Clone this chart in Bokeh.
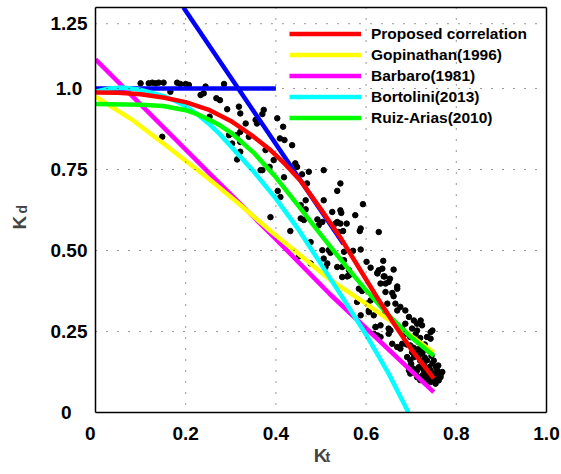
import math
from bokeh.plotting import figure
from bokeh.models import Range1d, FixedTicker, Legend, LegendItem, Label, Span, LinearAxis
from bokeh.embed import file_html
from bokeh.resources import INLINE

NB = "\u00a0"
# ---------------- data ----------------
x_ticks = [0, 0.2, 0.4, 0.6, 0.8, 1.0]
x_tick_labels = ["0" + NB * 2, "0.2", "0.4", "0.6", "0.8", "1.0"]
y_ticks = [0, 0.25, 0.5, 0.75, 1.0, 1.2]
y_tick_labels = ["0" + NB * 3, "0.25", "0.50", "0.75", "1.0" + NB, "1.25"]

# observed (Kt, Kd) points
kt_obs = [0.100, 0.118, 0.126, 0.133, 0.140, 0.151, 0.181, 0.188, 0.200, 0.207, 0.244, 0.285,
          0.166, 0.233, 0.240, 0.268, 0.276, 0.292, 0.318, 0.321, 0.333, 0.321, 0.296, 0.313,
          0.340, 0.303, 0.321, 0.314, 0.148, 0.253, 0.373, 0.366, 0.388, 0.403, 0.410, 0.321,
          0.370, 0.355, 0.358, 0.416, 0.409, 0.419, 0.436, 0.377, 0.395, 0.443, 0.447, 0.386,
          0.370, 0.473, 0.506, 0.458, 0.418, 0.469, 0.466, 0.536, 0.543, 0.536, 0.404, 0.506,
          0.455, 0.466, 0.455, 0.462, 0.492, 0.503, 0.525, 0.543, 0.532, 0.543, 0.557, 0.576,
          0.432, 0.495, 0.477, 0.503, 0.517, 0.521, 0.451, 0.506, 0.571, 0.551, 0.477, 0.510,
          0.558, 0.586, 0.593, 0.545, 0.539, 0.549, 0.588, 0.628, 0.588, 0.551, 0.601, 0.638,
          0.610, 0.628, 0.625, 0.661, 0.641, 0.653, 0.547, 0.562, 0.636, 0.669, 0.643, 0.514,
          0.536, 0.547, 0.565, 0.580, 0.606, 0.617, 0.632, 0.621, 0.650, 0.658, 0.643, 0.747,
          0.743, 0.562, 0.625, 0.639, 0.632, 0.650, 0.669, 0.643, 0.658, 0.661, 0.584, 0.591,
          0.610, 0.602, 0.588, 0.606, 0.647, 0.665, 0.676, 0.687, 0.669, 0.695, 0.706, 0.713,
          0.721, 0.724, 0.702, 0.687, 0.680, 0.687, 0.698, 0.710, 0.713, 0.743, 0.735, 0.717,
          0.724, 0.698, 0.680, 0.676, 0.669, 0.658, 0.650, 0.654, 0.632, 0.621, 0.617, 0.625,
          0.698, 0.706, 0.717, 0.735, 0.747, 0.710, 0.728, 0.743, 0.758, 0.769, 0.735, 0.750,
          0.758, 0.698, 0.713, 0.717, 0.728, 0.691, 0.702, 0.721, 0.743, 0.728, 0.743, 0.754,
          0.765, 0.761, 0.735, 0.720, 0.713, 0.695, 0.700, 0.710, 0.720, 0.725, 0.730, 0.735,
          0.740, 0.745, 0.750, 0.755, 0.740, 0.730, 0.720, 0.710, 0.715, 0.725, 0.705, 0.690,
          0.720, 0.730, 0.740, 0.750, 0.760, 0.765, 0.735, 0.720, 0.705, 0.745, 0.755, 0.760]
kd_obs = [1.016, 1.016, 1.018, 1.016, 1.018, 1.018, 1.018, 1.014, 1.014, 1.011, 1.006, 1.014,
          0.990, 0.980, 0.985, 0.970, 0.964, 0.936, 0.944, 0.923, 0.892, 0.866, 0.856, 0.856,
          0.851, 0.830, 0.805, 0.781, 0.851, 0.913, 0.934, 0.748, 0.603, 0.908, 0.665, 0.835,
          0.921, 0.903, 0.892, 0.882, 0.846, 0.841, 0.825, 0.810, 0.779, 0.769, 0.758, 0.758,
          0.748, 0.743, 0.748, 0.735, 0.726, 0.707, 0.655, 0.588, 0.707, 0.684, 0.684, 0.655,
          0.640, 0.627, 0.599, 0.594, 0.596, 0.588, 0.619, 0.624, 0.583, 0.583, 0.583, 0.609,
          0.560, 0.578, 0.526, 0.501, 0.501, 0.493, 0.482, 0.475, 0.499, 0.470, 0.460, 0.449,
          0.420, 0.560, 0.643, 0.616, 0.557, 0.560, 0.568, 0.557, 0.503, 0.496, 0.465, 0.468,
          0.447, 0.439, 0.429, 0.441, 0.420, 0.413, 0.449, 0.439, 0.444, 0.382, 0.398, 0.460,
          0.449, 0.418, 0.429, 0.341, 0.315, 0.300, 0.233, 0.264, 0.259, 0.284, 0.310, 0.253,
          0.228, 0.423, 0.431, 0.420, 0.398, 0.403, 0.389, 0.372, 0.369, 0.359, 0.382, 0.375,
          0.346, 0.336, 0.300, 0.310, 0.336, 0.336, 0.326, 0.315, 0.315, 0.295, 0.284, 0.274,
          0.284, 0.269, 0.259, 0.274, 0.259, 0.243, 0.233, 0.243, 0.253, 0.248, 0.233, 0.217,
          0.207, 0.207, 0.212, 0.197, 0.202, 0.212, 0.243, 0.253, 0.269, 0.264, 0.243, 0.238,
          0.161, 0.171, 0.176, 0.161, 0.151, 0.130, 0.130, 0.130, 0.130, 0.125, 0.109, 0.109,
          0.109, 0.120, 0.109, 0.140, 0.151, 0.171, 0.186, 0.192, 0.099, 0.099, 0.094, 0.089,
          0.109, 0.099, 0.104, 0.109, 0.130, 0.130, 0.150, 0.120, 0.140, 0.115, 0.120, 0.135,
          0.115, 0.105, 0.120, 0.100, 0.140, 0.170, 0.160, 0.180, 0.195, 0.185, 0.200, 0.210,
          0.230, 0.210, 0.190, 0.160, 0.120, 0.115, 0.095, 0.100, 0.135, 0.175, 0.140, 0.145]

# correlation curves
red_kt = [0, 0.05, 0.10, 0.15, 0.20, 0.25, 0.30, 0.344, 0.388, 0.42, 0.455, 0.50, 0.543, 0.58, 0.62, 0.66, 0.70, 0.75]
red_kd = [0.988, 0.987, 0.982, 0.972, 0.958, 0.935, 0.900, 0.858, 0.81, 0.767, 0.715, 0.627, 0.54, 0.456, 0.365, 0.278, 0.195, 0.105]

yel_kt = [0, 0.08, 0.16, 0.255, 0.32, 0.39, 0.45, 0.52, 0.60, 0.68, 0.75]
yel_kd = [0.975, 0.905, 0.82, 0.717, 0.642, 0.558, 0.49, 0.41, 0.335, 0.257, 0.185]

mag_kt = [0, 0.255, 0.40, 0.52, 0.60, 0.75]
mag_kd = [1.09, 0.735, 0.535, 0.365, 0.26, 0.063]

cya_kt = [0, 0.03, 0.06, 0.10, 0.15, 0.175, 0.20, 0.225, 0.25, 0.275, 0.30, 0.35, 0.40, 0.45, 0.50, 0.55, 0.60, 0.65, 0.694]
cya_kd = [0.99, 1.0, 1.003, 0.996, 0.977, 0.963, 0.945, 0.921, 0.893, 0.860, 0.822, 0.745, 0.66, 0.565, 0.458, 0.35, 0.24, 0.12, 0.0]

grn_kt = [0, 0.10, 0.15, 0.20, 0.225, 0.25, 0.275, 0.30, 0.35, 0.40, 0.45, 0.50, 0.55, 0.60, 0.65, 0.70, 0.75]
grn_kd = [0.952, 0.950, 0.946, 0.933, 0.921, 0.905, 0.887, 0.864, 0.803, 0.726, 0.638, 0.548, 0.461, 0.377, 0.30, 0.232, 0.175]

blue_h_kt = [0, 0.4]
blue_h_kd = [1.0, 1.0]
blue_s_kt = [0.195, 0.55]
blue_s_kd = [1.25, 0.52]

legend_labels = ["Proposed correlation", "Gopinathan(1996)", "Barbaro(1981)", "Bortolini(2013)", "Ruiz-Arias(2010)"]

# ---------------- figure ----------------
FONT = "Liberation Sans"
p = figure(width=560, height=472, x_range=Range1d(0, 1), y_range=Range1d(0, 1.25),
           output_backend="svg", toolbar_location=None,
           min_border_left=95, min_border_right=14, min_border_top=7, min_border_bottom=60)
p.background_fill_color = "white"
p.border_fill_color = "white"
p.outline_line_color = None
p.xgrid.visible = False
p.ygrid.visible = False

for ax, ticks, labels in ((p.xaxis, x_ticks, x_tick_labels), (p.yaxis, y_ticks, y_tick_labels)):
    ax.ticker = FixedTicker(ticks=ticks)
    ax.major_label_overrides = dict(zip(ticks, labels))
    ax.major_label_text_font = FONT
    ax.major_label_text_font_style = "bold"
    ax.major_label_text_font_size = "19px"
    ax.major_label_text_color = "black"
    ax.axis_line_color = "black"
    ax.axis_line_width = 1.5
    ax.major_tick_in = 0
    ax.major_tick_out = 0
    ax.minor_tick_line_color = None
p.xaxis.major_label_standoff = 10
p.yaxis.major_label_standoff = 8

# box: top and right edges
for side in ("right", "above"):
    bx = LinearAxis(ticker=FixedTicker(ticks=[]), axis_line_color="black", axis_line_width=1.5,
                    major_tick_in=0, major_tick_out=0, minor_tick_line_color=None,
                    major_label_standoff=0)
    p.add_layout(bx, side)

# dotted grid
for t in x_ticks:
    p.add_layout(Span(location=t, dimension="height", line_color="#333333", line_width=1,
                      line_dash="1 10", level="glyph"))
for t in y_ticks:
    p.add_layout(Span(location=t, dimension="width", line_color="#333333", line_width=1,
                      line_dash="1 10", level="glyph"))

p.scatter(kt_obs, kd_obs, size=5.5, color="black")

LW = 4.5
p.line(blue_h_kt, blue_h_kd, line_width=LW, color="#0000ff")
p.line(blue_s_kt, blue_s_kd, line_width=LW, color="#0000ff")
r_mag = p.line(mag_kt, mag_kd, line_width=LW, color="#ff00ff")
r_yel = p.line(yel_kt, yel_kd, line_width=LW, color="#ffff00")
r_cya = p.line(cya_kt, cya_kd, line_width=LW, color="#00ffff")
r_grn = p.line(grn_kt, grn_kd, line_width=LW, color="#00ff00")
r_red = p.line(red_kt, red_kd, line_width=LW, color="#ff0000")

legend = Legend(items=[LegendItem(label=legend_labels[0], renderers=[r_red]),
                       LegendItem(label=legend_labels[1], renderers=[r_yel]),
                       LegendItem(label=legend_labels[2], renderers=[r_mag]),
                       LegendItem(label=legend_labels[3], renderers=[r_cya]),
                       LegendItem(label=legend_labels[4], renderers=[r_grn])],
                location=(194, 284), orientation="vertical",
                glyph_width=72, glyph_height=21, label_height=21, spacing=0,
                padding=0, margin=0, label_standoff=10,
                label_text_font=FONT, label_text_font_style="bold",
                label_text_font_size="15.5px", label_text_color="black",
                border_line_color=None, background_fill_alpha=0)
p.add_layout(legend)

# axis titles with subscripts (placed in side panels so they are not clipped)
p.add_layout(Label(x=0.499, y=-0.133, text="K",
                   text_font=FONT, text_font_style="bold", text_font_size="19px",
                   text_align="center", text_baseline="alphabetic"), "below")
p.add_layout(Label(x=0.510, y=-0.138, text="t",
                   text_font=FONT, text_font_style="bold", text_font_size="14px",
                   text_align="left", text_baseline="alphabetic"), "left")
p.add_layout(Label(x=-0.169, y=0.586, text="K",
                   angle=math.pi / 2, text_font=FONT, text_font_style="bold", text_font_size="19px",
                   text_align="center", text_baseline="alphabetic"), "left")
p.add_layout(Label(x=-0.163, y=0.614, text="d",
                   angle=math.pi / 2, text_font=FONT, text_font_style="bold", text_font_size="14px",
                   text_align="left", text_baseline="alphabetic"), "left")

open("out.html", "w").write(file_html(p, INLINE))
